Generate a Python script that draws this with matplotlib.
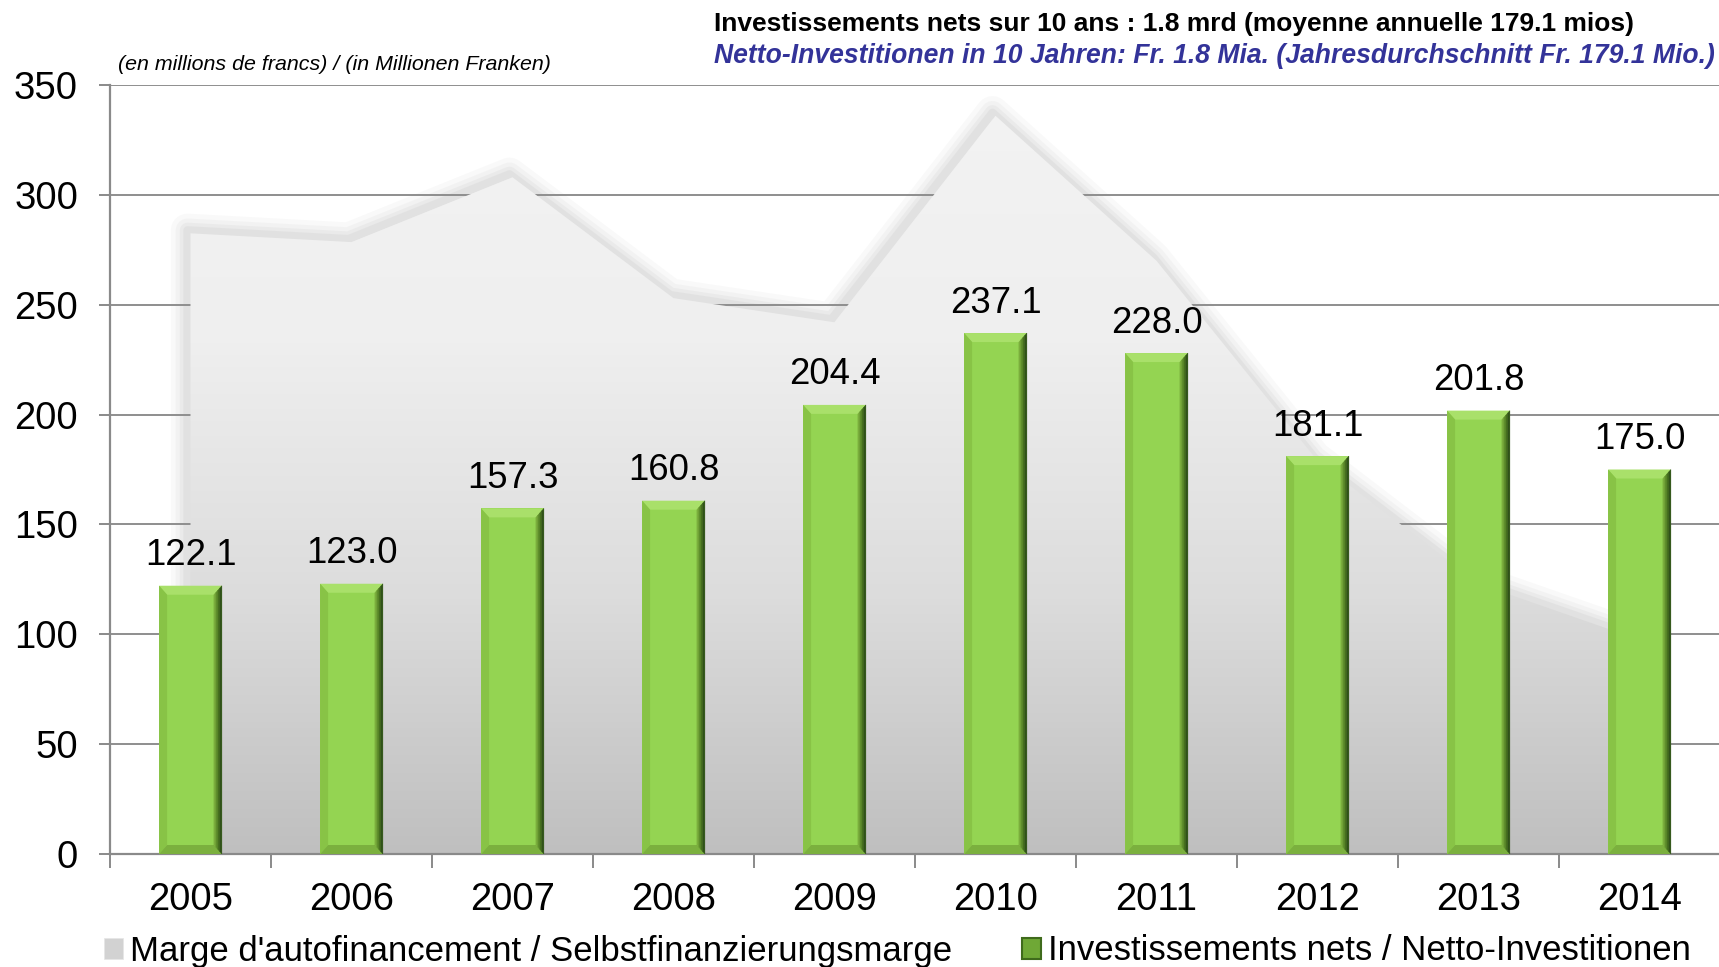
import numpy as np
import matplotlib
matplotlib.use("Agg")
import matplotlib.pyplot as plt
from matplotlib.patches import Patch, Polygon
from matplotlib.colors import LinearSegmentedColormap
import matplotlib.transforms as mtransforms

plt.rcParams['font.family'] = ['Liberation Sans', 'DejaVu Sans']

years = ['2005', '2006', '2007', '2008', '2009', '2010', '2011', '2012', '2013', '2014']
invest = [122.1, 123.0, 157.3, 160.8, 204.4, 237.1, 228.0, 181.1, 201.8, 175.0]
marge = [282.5, 278.5, 308.0, 253.0, 242.0, 336.0, 270.0, 179.0, 123.0, 97.5]

yticks = [0, 50, 100, 150, 200, 250, 300, 350]

title_fr = "Investissements nets sur 10 ans : 1.8 mrd (moyenne annuelle 179.1 mios)"
title_de = "Netto-Investitionen in 10 Jahren: Fr. 1.8 Mia. (Jahresdurchschnitt Fr. 179.1 Mio.)"
unit_txt = "(en millions de francs) / (in Millionen Franken)"
leg_marge = "Marge d'autofinancement / Selbstfinanzierungsmarge"
leg_inv = "Investissements nets / Netto-Investitionen"

W, H = 1719, 967
fig = plt.figure(figsize=(W / 100, H / 100), dpi=100)
ax = fig.add_axes([110 / W, 1 - 854 / H, 1610 / W, (854 - 85) / H])

x = np.arange(len(years))
ax.set_xlim(-0.5, len(years) - 0.5)
ax.set_ylim(0, 350)

# grid + axes styling
ax.set_axisbelow(True)
ax.yaxis.grid(True, color='#8e8e8e', lw=1.4)
for s in ['top', 'right']:
    ax.spines[s].set_visible(False)
for s in ['left', 'bottom']:
    ax.spines[s].set_color('#8a8a8a')
    ax.spines[s].set_linewidth(1.6)
ax.set_yticks(yticks)
ax.tick_params(axis='y', length=8, width=1.4, color='#8a8a8a', labelsize=27.5, pad=15)
ax.set_xticks(np.arange(-0.5, len(years)), labels=[''] * (len(years) + 1))
ax.set_xticks(x, labels=years, minor=True)
ax.tick_params(axis='x', which='major', length=10, width=1.4, color='#8a8a8a')
ax.tick_params(axis='x', which='minor', length=0, labelsize=27.5, pad=20)

# area: soft shadow along the top edge
edge_x = np.concatenate([[x[0]], x])
edge_y = np.concatenate([[0], marge])
shadow_tr = mtransforms.offset_copy(ax.transData, fig=fig, x=-3, y=3, units='dots')
for lw, a in [(24, 0.05), (17, 0.06), (11, 0.08), (6, 0.09)]:
    ax.plot(edge_x, edge_y, color='#909090', lw=lw, alpha=a, solid_joinstyle='round',
            solid_capstyle='round', transform=shadow_tr, zorder=1)

# area: vertical gradient fill
poly = ax.fill_between(x, 0, marge, color='none', lw=0, zorder=1.2)
cmap = LinearSegmentedColormap.from_list('g', ['#bfbfbf', '#dcdcdc', '#efefef', '#f3f3f3'])
grad = np.linspace(0, 1, 256).reshape(-1, 1)
img = ax.imshow(grad, cmap=cmap, origin='lower', aspect='auto',
                extent=(-0.5, len(years) - 0.5, 0, 350), zorder=1.2)
img.set_clip_path(poly.get_paths()[0], transform=ax.transData)

# bars with bevel
bw = 0.39
ax.bar(x, invest, width=bw, color='#94d452', zorder=3)
fig.canvas.draw()
px_x = (ax.transData.transform((1, 0))[0] - ax.transData.transform((0, 0))[0])
px_y = (ax.transData.transform((0, 1))[1] - ax.transData.transform((0, 0))[1])
dx = 8 / px_x
dy = 9 / px_y
for xi, h in zip(x, invest):
    l, r = xi - bw / 2, xi + bw / 2
    # top bevel
    ax.add_patch(Polygon([(l, h), (r, h), (r - dx, h - dy), (l + dx, h - dy)],
                         closed=True, fc='#a9e06a', ec='none', zorder=4))
    # left bevel
    ax.add_patch(Polygon([(l, h), (l + dx, h - dy), (l + dx, dy), (l, 0)],
                         closed=True, fc='#88c346', ec='none', zorder=4))
    # bottom bevel
    ax.add_patch(Polygon([(l, 0), (r, 0), (r - dx, dy), (l + dx, dy)],
                         closed=True, fc='#7bb03e', ec='none', zorder=4))
    # right bevel, dark gradient
    shades = ['#7aad3c', '#5f8e2c', '#466f1f', '#30511a']
    n = len(shades)
    for k, c in enumerate(shades):
        x0 = r - dx + k * dx / n
        ax.add_patch(Polygon([(x0, h - dy * (1 - k / n)), (x0 + dx / n, h - dy * (1 - (k + 1) / n)),
                              (x0 + dx / n, dy * (1 - (k + 1) / n)), (x0, dy * (1 - k / n))],
                             closed=True, fc=c, ec=c, lw=0.3, zorder=4))
    ax.annotate(f"{h:.1f}", (xi, h), xytext=(0, 9), textcoords='offset points',
                ha='center', va='bottom', fontsize=26.3, color='black', zorder=5)

# titles
fig.text(714 / W, 1 - 24 / H, title_fr, fontsize=19, fontweight='bold', color='black',
         ha='left', va='center')
fig.text(714 / W, 1 - 56 / H, title_de, fontsize=19.1, fontweight='bold', fontstyle='italic',
         color='#333399', ha='left', va='center')
fig.text(118 / W, 1 - 64 / H, unit_txt, fontsize=15.4, fontstyle='italic', color='black',
         ha='left', va='center')

# legend
handles = [Patch(facecolor='#d2d2d2', edgecolor='#e6e6e6', lw=0.5),
           Patch(facecolor='#6fa836', edgecolor='#3f6b1c', lw=1.5)]
fig.legend(handles, [leg_marge, leg_inv], loc='center left', bbox_to_anchor=(104 / W, 1 - 951 / H),
           ncol=2, frameon=False, fontsize=25, handlelength=0.55, handleheight=0.55,
           handletextpad=0.2, columnspacing=2.0, borderpad=0, borderaxespad=0)

fig.savefig('out.png', dpi=100)
